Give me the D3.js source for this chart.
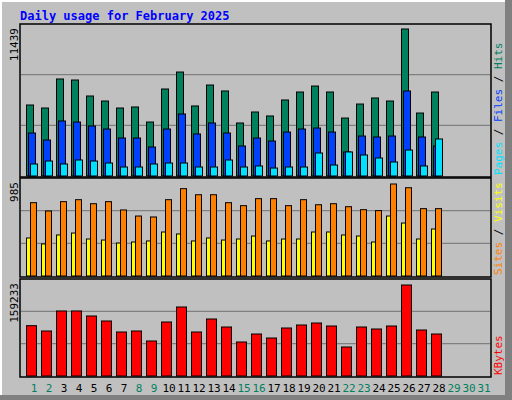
<!DOCTYPE html>
<html><head><meta charset="utf-8">
<script src="https://cdn.jsdelivr.net/npm/d3@7"></script>
<style>body{margin:0;background:#fff}svg{display:block}text{font-family:"DejaVu Sans Mono",monospace}</style>
</head><body>
<svg id="chart" width="512" height="400"></svg>
<script>
var days = d3.range(1, 32)
var hits = [5525,5290,7550,7470,6225,5835,5290,5370,4200,6770,8090,5450,7080,6615,4125,4980,4670,5915,6535,7000,6535,4510,5600,6070,5835,11439,4900,6535]
var files = [3345,2800,4280,4200,3890,3655,2955,2955,2255,3655,4825,3270,4125,3345,2335,2955,2720,3420,3655,3735,3420,1870,3110,3035,3110,6615,3035,2335]
var pages = [935,1165,935,1245,1165,1010,700,700,935,1010,1010,700,700,1245,700,780,620,700,700,1790,855,1870,1635,1400,1090,2020,780,2880]
var sites = [407,343,439,460,396,385,353,364,375,471,450,375,407,385,396,428,375,396,396,471,471,439,428,364,642,567,396,503]
var visits = [785,696,796,817,774,796,707,642,632,817,935,870,870,785,753,828,828,753,817,763,774,742,710,700,985,945,721,721]
var kbytes = [88050,78740,113740,113740,104990,96240,76990,78740,61240,94490,120740,76990,99740,85740,59490,73490,66490,83990,89240,92740,87490,50740,85740,82240,87490,159233,80490,73490]
var weekend = [1,2,8,9,15,16,22,23,29,30,31]

var svg = d3.select('#chart')
// frame
svg.append('rect').attr('x', 0).attr('y', 0).attr('width', 512).attr('height', 400).attr('fill', '#808080')
svg.append('rect').attr('x', 0).attr('y', 0).attr('width', 505).attr('height', 395).attr('fill', '#fff')
svg.append('rect').attr('x', 2).attr('y', 2).attr('width', 503).attr('height', 393).attr('fill', '#c0c0c0')

svg.append('text').attr('x', 20).attr('y', 20).attr('fill', '#0000ff').attr('font-weight', 'bold')
  .attr('font-size', 12).text('Daily usage for February 2025')

var x = d3.scaleBand().domain(days).range([26, 491]).paddingInner(0).paddingOuter(0)
x.range([26, 26 + 15 * 31])

var panels = [
  {top: 24, bottom: 177, base: 176, h: 147, max: 11439, label: '11439',
    series: [[hits, '#00805c', 0, 8], [files, '#0040ff', 2, 8], [pages, '#00e0ff', 4, 8]],
    legend: [['Pages', '#00e0ff'], [' / ', '#000'], ['Files', '#0040ff'], [' / ', '#000'], ['Hits', '#00805c']]},
  {top: 178, bottom: 277, base: 276, h: 92, max: 985, label: '985',
    series: [[sites, '#ffff00', 0, 5], [visits, '#ff8000', 4, 7]],
    legend: [['Sites', '#ff8000'], [' / ', '#000'], ['Visits', '#ffff00']]},
  {top: 279, bottom: 377, base: 376, h: 91, max: 159233, label: '159233',
    series: [[kbytes, '#ff0000', 0, 11]],
    legend: [['KBytes', '#ff0000']]}
]

panels.forEach(function (p) {
  var g = svg.append('g')
  g.append('rect').attr('x', 20).attr('y', p.top).attr('width', 471).attr('height', p.bottom - p.top)
    .attr('fill', '#c0c0c0').attr('stroke', '#000').attr('stroke-width', 1.5)
  var y = d3.scaleLinear().domain([0, p.max]).range([p.base, p.base - p.h])
  var gh = p.base - p.top
  ;[1, 2].forEach(function (i) {
    g.append('line').attr('x1', 21).attr('x2', 490)
      .attr('y1', p.base - gh * i / 3).attr('y2', p.base - gh * i / 3)
      .attr('stroke', '#808080').attr('stroke-width', 1.2)
  })
  p.series.forEach(function (s) {
    g.selectAll(null).data(s[0]).enter().append('rect')
      .attr('x', function (d, i) { return x(days[i]) + s[2] + 0.5 })
      .attr('y', function (d) { return y(d) })
      .attr('width', s[3] - 1)
      .attr('height', function (d) { return p.base - y(d) })
      .attr('fill', s[1]).attr('stroke', '#000').attr('stroke-width', 1)
  })
  svg.append('text').attr('transform', 'translate(18,' + (p.top + 4) + ') rotate(-90)')
    .attr('text-anchor', 'end').attr('font-size', 11).attr('fill', '#000').text(p.label)
  var t = svg.append('text').attr('transform', 'translate(502,' + (p.bottom - 2) + ') rotate(-90)')
    .attr('font-size', 11)
  p.legend.forEach(function (l) { t.append('tspan').attr('fill', l[1]).text(l[0]) })
})

svg.selectAll('.day').data(days).enter().append('text')
  .attr('x', function (d) { return x(d) + 8 })
  .attr('y', 392).attr('text-anchor', 'middle').attr('font-size', 11)
  .attr('fill', function (d) { return weekend.indexOf(d) >= 0 ? '#00805c' : '#000' })
  .text(function (d) { return d })
</script>
</body></html>
